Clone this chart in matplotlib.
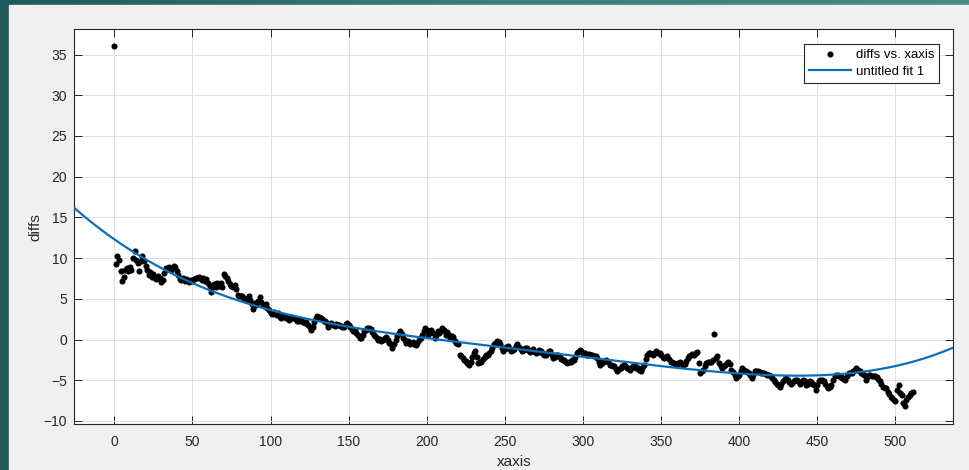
import numpy as np
import matplotlib
matplotlib.use('Agg')
import matplotlib.pyplot as plt
from matplotlib.colors import LinearSegmentedColormap
from matplotlib.patches import Rectangle

# diffs vs. xaxis (x = 0..511)
diffs = [
    36.0, 9.3, 10.2, 9.8, 8.4, 7.2, 7.7, 8.6, 8.8, 8.4,
    8.9, 8.6, 10.0, 10.9, 9.8, 9.4, 8.4, 9.7, 10.3, 9.6,
    9.0, 8.5, 7.9, 8.3, 7.7, 8.1, 7.6, 7.4, 7.8, 7.5,
    7.1, 7.3, 8.2, 8.8, 8.7, 8.9, 8.6, 8.8, 9.0, 8.9,
    8.4, 7.9, 7.4, 7.3, 7.5, 7.2, 7.4, 7.3, 7.1, 7.3,
    7.2, 7.4, 7.6, 7.5, 7.7, 7.6, 7.3, 7.5, 7.2, 7.4,
    6.9, 6.6, 5.9, 6.4, 6.8, 6.5, 6.9, 6.6, 7.0, 6.4,
    8.0, 7.8, 7.6, 7.2, 6.8, 6.6, 6.4, 6.7, 6.2, 5.5,
    5.3, 5.4, 5.3, 5.0, 4.9, 5.1, 5.3, 4.8, 4.4, 3.7,
    4.5, 4.3, 4.7, 5.2, 4.6, 4.3, 4.1, 4.4, 3.9, 3.6,
    3.3, 3.1, 3.4, 3.1, 3.0, 3.3, 2.8, 2.65, 2.9, 2.9,
    2.7, 2.6, 2.45, 2.8, 2.6, 2.65, 2.5, 2.3, 2.25, 2.4,
    2.3, 2.15, 2.05, 2.2, 1.8, 1.5, 1.2, 1.6, 2.1, 2.6,
    2.9, 2.8, 2.65, 2.5, 2.3, 2.25, 2.0, 1.6, 1.9, 2.0,
    1.8, 1.7, 1.9, 1.84, 1.84, 1.7, 1.5, 1.6, 1.9, 2.0,
    1.84, 1.6, 1.3, 1.0, 1.2, 0.8, 0.5, 0.2, 0.2, 0.6,
    1.0, 1.2, 1.4, 1.4, 1.3, 0.9, 0.6, 0.4, 0.2, 0.0,
    0.1, -0.2, 0.0, 0.2, 0.3, -0.1, -0.4, -0.5, -1.04, -0.6,
    0.0, 0.4, 0.8, 1.0, 0.7, 0.2, 0.0, -0.4, -0.2, -0.5,
    -0.4, -0.3, -0.6, -0.63, -0.4, 0.0, 0.2, 0.6, 1.0, 1.4,
    1.2, 0.6, 0.9, 1.2, 0.8, 0.2, 0.5, 1.0, 0.8, 1.1,
    1.4, 1.2, 0.6, 0.9, 0.5, 0.2, 0.4, 0.3, -0.2, -0.4,
    -0.5, -1.87, -2.0, -2.3, -2.5, -2.6, -2.9, -3.1, -2.7, -2.1,
    -1.7, -1.46, -2.2, -2.9, -2.8, -2.7, -2.4, -2.1, -1.9, -1.9,
    -1.7, -1.46, -1.0, -0.6, -0.4, -0.2, -0.3, -0.6, -1.0, -1.46,
    -1.2, -0.9, -0.84, -1.1, -1.4, -1.25, -1.1, -0.8, -0.6, -0.9,
    -1.2, -1.46, -1.3, -1.05, -1.05, -1.3, -1.5, -1.46, -1.2, -1.5,
    -1.66, -1.5, -1.3, -1.46, -1.7, -1.9, -1.87, -1.6, -1.4, -1.46,
    -1.9, -2.28, -2.1, -1.9, -1.87, -2.1, -2.4, -2.5, -2.5, -2.7,
    -2.9, -2.7, -2.7, -2.5, -2.5, -2.2, -1.65, -1.5, -1.25, -1.4,
    -1.65, -1.7, -1.86, -1.9, -1.8, -1.86, -1.9, -2.0, -2.07, -2.3,
    -2.8, -3.1, -2.9, -2.7, -2.6, -2.5, -2.8, -3.1, -3.1, -3.3,
    -3.3, -3.6, -3.9, -3.6, -3.5, -3.3, -3.1, -3.3, -3.5, -3.5,
    -3.7, -3.5, -3.3, -3.3, -3.5, -3.5, -3.7, -3.9, -3.5, -3.1,
    -2.4, -1.86, -1.7, -1.65, -1.8, -1.86, -1.6, -1.45, -1.6, -1.65,
    -1.9, -2.1, -2.3, -2.1, -2.07, -2.4, -2.7, -2.8, -2.9, -3.0,
    -3.1, -2.9, -2.7, -2.9, -3.1, -3.0, -2.6, -2.3, -2.0, -1.86,
    -1.8, -1.86, -1.65, -1.5, -2.9, -4.1, -3.9, -3.7, -3.3, -2.9,
    -2.8, -2.7, -2.7, -2.5, 0.7, -2.3, -2.07, -2.9, -3.2, -3.5,
    -3.3, -3.1, -2.9, -2.7, -3.0, -3.7, -4.0, -4.4, -4.75, -4.5,
    -4.3, -3.9, -3.5, -3.7, -3.9, -4.0, -4.1, -4.4, -4.75, -4.3,
    -3.9, -3.9, -3.9, -4.0, -4.1, -4.1, -4.1, -4.2, -4.3, -4.4,
    -4.5, -4.7, -4.95, -5.2, -5.4, -5.6, -5.8, -5.5, -5.15, -4.9,
    -4.75, -5.0, -5.2, -5.4, -5.3, -5.15, -5.0, -4.95, -5.2, -5.4,
    -5.2, -4.95, -5.1, -5.6, -5.4, -5.15, -5.2, -5.4, -5.6, -6.2,
    -5.6, -5.15, -5.0, -4.95, -5.1, -5.4, -5.7, -6.0, -5.8, -5.6,
    -5.0, -4.5, -4.3, -4.4, -4.5, -4.6, -4.75, -4.9, -4.95, -4.5,
    -4.1, -4.1, -4.1, -3.9, -3.7, -3.5, -3.7, -3.9, -4.1, -4.2,
    -4.3, -4.95, -4.6, -4.3, -4.4, -4.5, -4.5, -4.5, -4.6, -4.9,
    -5.15, -5.5, -5.8, -5.9, -6.0, -6.4, -6.7, -7.0, -7.2, -7.4,
    -7.6, -6.2, -5.6, -6.6, -6.8, -7.8, -8.2, -7.4, -7.0, -6.8,
    -6.6, -6.4,
]
xaxis = np.arange(len(diffs))

# "untitled fit 1" curve
fit_x = [-25.6, 0, 50, 100, 150, 200, 250, 300, 350, 400, 450, 500, 537]
fit_y = [16.2, 12.3, 6.8, 3.7, 1.8, 0.0, -1.1, -2.1, -3.2, -4.1, -4.45, -3.3, -0.95]

xticks = [0, 50, 100, 150, 200, 250, 300, 350, 400, 450, 500]
yticks = [-10, -5, 0, 5, 10, 15, 20, 25, 30, 35]

plt.rcParams['font.family'] = ['Liberation Sans', 'DejaVu Sans']

fig = plt.figure(figsize=(9.69, 4.70), dpi=100)

# teal slide frame + grey figure area
bg = fig.add_axes([0, 0, 1, 1], zorder=-10)
teal = LinearSegmentedColormap.from_list('teal', ['#1e5a5c', '#3c7e78', '#4a8c82'])
bg.imshow(np.linspace(0, 1, 256)[None, :], aspect='auto', cmap=teal,
          extent=[0, 1, 0, 1])
bg.add_patch(Rectangle((9 / 969, 0), 1, 1 - 5 / 470, color='#f0f0f0'))
bg.set_xlim(0, 1)
bg.set_ylim(0, 1)
bg.axis('off')

ax = fig.add_axes([74.3 / 969, 1 - 424 / 470, (953.3 - 74.3) / 969, (424 - 29.3) / 470])
ax.set_facecolor('white')

# smooth polynomial through the read curve values (x scaled to hundreds)
coef = np.polyfit(np.array(fit_x) / 100, fit_y, 5)
xs = np.linspace(-25.6, 537, 400)

ax.plot(xaxis, diffs, 'o', color='black', markersize=4.4, markeredgewidth=0,
        label='diffs vs. xaxis', zorder=3)
ax.plot(xs, np.polyval(coef, xs / 100), color='#0a6fba', linewidth=1.6,
        label='untitled fit 1', zorder=4)

ax.set_xlim(-25.6, 537)
ax.set_ylim(-10.37, 38.1)
ax.set_xticks(xticks)
ax.set_yticks(yticks)
ax.grid(True, color='#e0e0e0', linewidth=0.7)
ax.set_axisbelow(True)
ax.tick_params(direction='in', length=5.5, width=0.7, top=True, right=True,
               labelsize=10, colors='#262626', pad=5)
ax.tick_params(axis='x', pad=8)
for s in ax.spines.values():
    s.set_color('#262626')
    s.set_linewidth(0.8)

ax.set_xlabel('xaxis', fontsize=11, color='#262626', labelpad=4)
ax.set_ylabel('diffs', fontsize=11, color='#262626', labelpad=1)

leg = ax.legend(loc='upper right', bbox_to_anchor=(0.984, 0.962), fontsize=9.5,
                frameon=True, fancybox=False, framealpha=1, edgecolor='#262626',
                borderpad=0.35, handlelength=3.2, handletextpad=0.4,
                labelspacing=0.35, borderaxespad=0)
leg.get_frame().set_linewidth(0.8)

fig.savefig('out.png', dpi=100)
